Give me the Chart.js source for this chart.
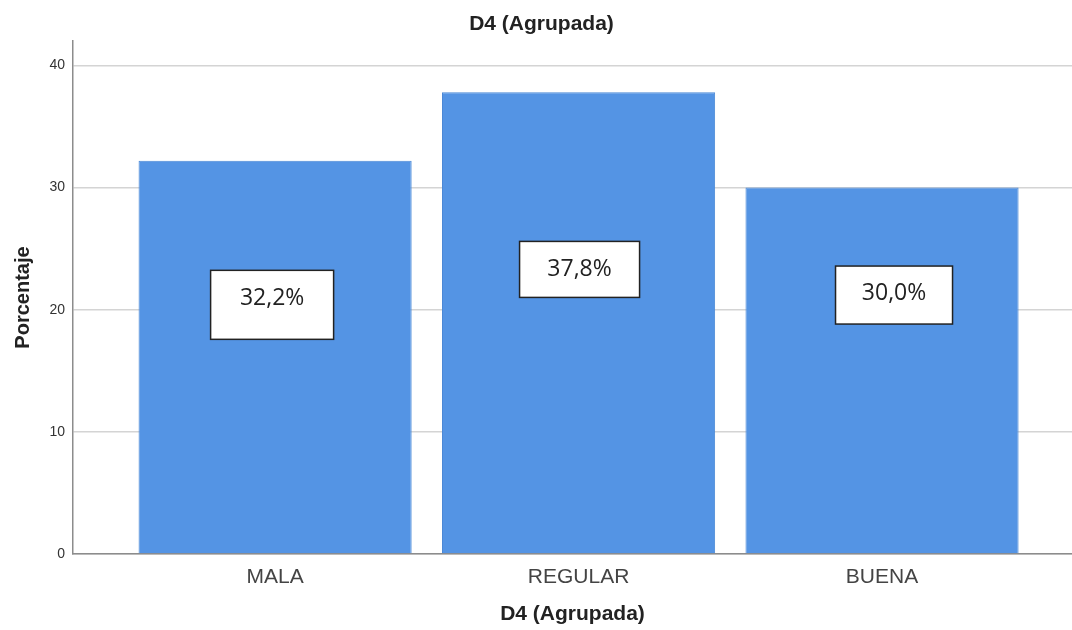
<!DOCTYPE html>
<html><head><meta charset="utf-8">
<script src="https://cdn.jsdelivr.net/npm/chart.js@4"></script>
<style>html,body{margin:0;padding:0;background:#fff}#wrap{width:1072px;height:630px}</style>
</head><body><div id="wrap"><canvas id="c" width="1072" height="630"></canvas></div>
<script>
const categories = ['MALA', 'REGULAR', 'BUENA'];
const percentages = [32.2, 37.8, 30.0];
const valueLabels = ['32,2%', '37,8%', '30,0%'];
const yTicks = [0, 10, 20, 30, 40];

const boxPlugin = {
  id: 'boxLabels',
  afterDatasetsDraw(chart, args, opts) {
    const ctx = chart.ctx, xs = chart.scales.x, ys = chart.scales.y;
    opts.boxes.forEach((b, i) => {
      const cx = xs.getPixelForValue(i) + b.dx;
      const cy = ys.getPixelForValue(b.cy);
      ctx.save();
      ctx.fillStyle = '#ffffff';
      ctx.strokeStyle = '#222222';
      ctx.lineWidth = 1.5;
      ctx.fillRect(cx - b.w / 2, cy - b.h / 2, b.w, b.h);
      ctx.strokeRect(cx - b.w / 2, cy - b.h / 2, b.w, b.h);
      ctx.fillStyle = '#222222';
      ctx.font = '23px "Open Sans", sans-serif';
      ctx.textAlign = 'center';
      ctx.textBaseline = 'middle';
      ctx.fillText(valueLabels[i], cx, cy + b.ty);
      ctx.restore();
    });
  }
};

new Chart(document.getElementById('c'), {
  type: 'bar',
  data: {
    datasets: [{
      data: categories.map((c, i) => ({ x: i, y: percentages[i] })),
      backgroundColor: '#5494e4',
      borderColor: '#4a88d6',
      borderWidth: 1,
      barPercentage: 0.9,
      categoryPercentage: 1.0
    }]
  },
  options: {
    responsive: false,
    animation: false,
    layout: { padding: { left: 11, right: 0, top: 0, bottom: 0 } },
    plugins: {
      legend: { display: false },
      tooltip: { enabled: false },
      title: {
        display: true,
        text: 'D4 (Agrupada)',
        color: '#222',
        font: { family: '"Liberation Sans", Arial, sans-serif', size: 21, weight: 'bold', lineHeight: 1.2 },
        padding: { top: 11.4, bottom: 4.4 }
      },
      boxLabels: {
        boxes: [
          { cy: 20.4, w: 123, h: 69, ty: -6, dx: -3 },
          { cy: 23.3, w: 120, h: 56, ty: 0, dx: 1 },
          { cy: 21.2, w: 117, h: 58, ty: -2, dx: 12 }
        ]
      }
    },
    scales: {
      x: {
        type: 'linear',
        offset: false,
        min: -0.666,
        max: 2.626,
        afterBuildTicks(s) { s.ticks = categories.map((c, i) => ({ value: i })); },
        afterFit(s) { s.height = 76; },
        grid: { display: false, drawTicks: false, offset: false },
        border: { display: true, color: '#8c8c8c', width: 1.5 },
        ticks: {
          autoSkip: false,
          maxRotation: 0,
          padding: 11,
          color: '#444',
          font: { family: '"Liberation Sans", Arial, sans-serif', size: 21 },
          callback: (v) => categories[v] !== undefined ? categories[v] : ''
        },
        title: {
          display: true,
          text: 'D4 (Agrupada)',
          color: '#222',
          font: { family: '"Liberation Sans", Arial, sans-serif', size: 21, weight: 'bold', lineHeight: 1.2 },
          padding: { top: 0, bottom: 3 }
        }
      },
      y: {
        min: 0,
        max: 42,
        afterBuildTicks(s) { s.ticks = yTicks.map(v => ({ value: v })); },
        afterFit(s) { s.width = 62; },
        grid: { color: '#d4d4d4', lineWidth: 1.5, drawTicks: false },
        border: { display: true, color: '#8c8c8c', width: 1.5 },
        ticks: {
          padding: 8,
          color: '#333',
          font: { family: '"Liberation Sans", Arial, sans-serif', size: 14 }
        },
        title: {
          display: true,
          text: 'Porcentaje',
          color: '#222',
          font: { family: '"Liberation Sans", Arial, sans-serif', size: 20, weight: 'bold', lineHeight: 1.2 },
          padding: { top: 0, bottom: 0 }
        }
      }
    }
  },
  plugins: [boxPlugin]
});
</script>
</body></html>
